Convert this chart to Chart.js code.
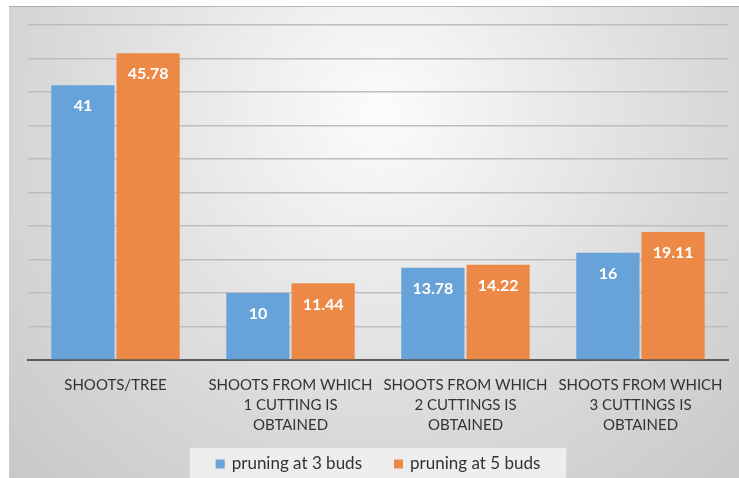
<!DOCTYPE html>
<html>
<head>
<meta charset="utf-8">
<script src="https://cdn.jsdelivr.net/npm/chart.js@4.4.1/dist/chart.umd.min.js"></script>
<style>
  html, body { margin: 0; padding: 0; background: #fff; }
  #wrap { width: 739px; height: 478px; }
</style>
</head>
<body>
<div id="wrap"><canvas id="chart"></canvas></div>
<script>
const categories = [
  ['SHOOTS/TREE'],
  ['SHOOTS FROM WHICH', '1 CUTTING IS', 'OBTAINED'],
  ['SHOOTS FROM WHICH', '2 CUTTINGS IS', 'OBTAINED'],
  ['SHOOTS FROM WHICH', '3 CUTTINGS IS', 'OBTAINED']
];
const seriesNames = ['pruning at 3 buds', 'pruning at 5 buds'];
const pruning3 = [41, 10, 13.78, 16];
const pruning5 = [45.78, 11.44, 14.22, 19.11];
const yMax = 50;
const yStep = 5;

const FONT = 'Lato, "Open Sans", sans-serif';
const TEXT_COLOR = '#333333';

// grey panel with a soft light centre behind the whole chart
const panelBackground = {
  id: 'panelBackground',
  beforeDraw(chart) {
    const ctx = chart.ctx;
    ctx.save();
    ctx.fillStyle = '#ffffff';
    ctx.fillRect(0, 0, chart.width, chart.height);
    const g = ctx.createRadialGradient(380, 110, 0, 380, 110, 520);
    g.addColorStop(0, '#fcfcfc');
    g.addColorStop(0.65, '#d8d8d8');
    g.addColorStop(1, '#c8c8c8');
    ctx.fillStyle = g;
    ctx.fillRect(9, 6, chart.width - 9, chart.height - 6);
    ctx.fillStyle = 'rgba(150,150,150,0.6)';
    ctx.fillRect(9, 6, chart.width - 9, 1);
    ctx.restore();
  }
};

// value printed in white just inside the top of each bar
const barValues = {
  id: 'barValues',
  afterDatasetsDraw(chart) {
    const ctx = chart.ctx;
    ctx.save();
    ctx.font = 'bold 16px ' + FONT;
    ctx.fillStyle = '#ffffff';
    ctx.textAlign = 'center';
    ctx.textBaseline = 'middle';
    chart.data.datasets.forEach((ds, i) => {
      chart.getDatasetMeta(i).data.forEach((bar, j) => {
        ctx.fillText(String(ds.data[j]), bar.x, bar.y + 21);
      });
    });
    ctx.restore();
  }
};

// legend strip along the bottom edge
const bottomLegend = {
  id: 'bottomLegend',
  afterDraw(chart) {
    const ctx = chart.ctx;
    const box = 9, gap = 7, spacing = 32, pad = 26;
    ctx.save();
    ctx.font = '17px ' + FONT;
    const items = chart.data.datasets.map(ds => ({
      text: ds.label, color: ds.backgroundColor, w: ctx.measureText(ds.label).width
    }));
    const total = items.reduce((s, it) => s + box + gap + it.w, 0) + spacing * (items.length - 1);
    const mid = (chart.chartArea.left + chart.chartArea.right) / 2;
    let x = mid - total / 2;
    const top = chart.height - 30;
    ctx.fillStyle = 'rgba(245,245,245,0.75)';
    ctx.fillRect(x - pad, top, total + pad * 2, 30);
    const cy = top + 16;
    ctx.textBaseline = 'middle';
    ctx.textAlign = 'left';
    items.forEach(it => {
      ctx.fillStyle = it.color;
      ctx.fillRect(x, cy - box / 2, box, box);
      ctx.fillStyle = TEXT_COLOR;
      ctx.fillText(it.text, x + box + gap, cy);
      x += box + gap + it.w + spacing;
    });
    ctx.restore();
  }
};

new Chart(document.getElementById('chart'), {
  type: 'bar',
  data: {
    labels: categories,
    datasets: [
      { label: seriesNames[0], data: pruning3, backgroundColor: '#67a2d8' },
      { label: seriesNames[1], data: pruning5, backgroundColor: '#ed8946' }
    ]
  },
  options: {
    responsive: true,
    maintainAspectRatio: false,
    animation: false,
    layout: { padding: { left: 28, right: 11, top: 25, bottom: 30 } },
    datasets: {
      bar: { categoryPercentage: 0.745, barPercentage: 0.97 }
    },
    plugins: {
      legend: { display: false },
      tooltip: { enabled: false }
    },
    scales: {
      x: {
        grid: { display: false, drawTicks: false },
        border: { display: true, color: '#5a5a5a', width: 2 },
        ticks: {
          color: TEXT_COLOR,
          font: { family: FONT, size: 15, lineHeight: 1.34 },
          padding: 15,
          maxRotation: 0,
          autoSkip: false
        },
        afterFit(scale) { scale.height = 88; }
      },
      y: {
        min: 0,
        max: yMax,
        ticks: { display: false, stepSize: yStep },
        border: { display: false },
        grid: { color: '#bdbdbd', lineWidth: 1.5, drawTicks: false }
      }
    }
  },
  plugins: [panelBackground, barValues, bottomLegend]
});
</script>
</body>
</html>
